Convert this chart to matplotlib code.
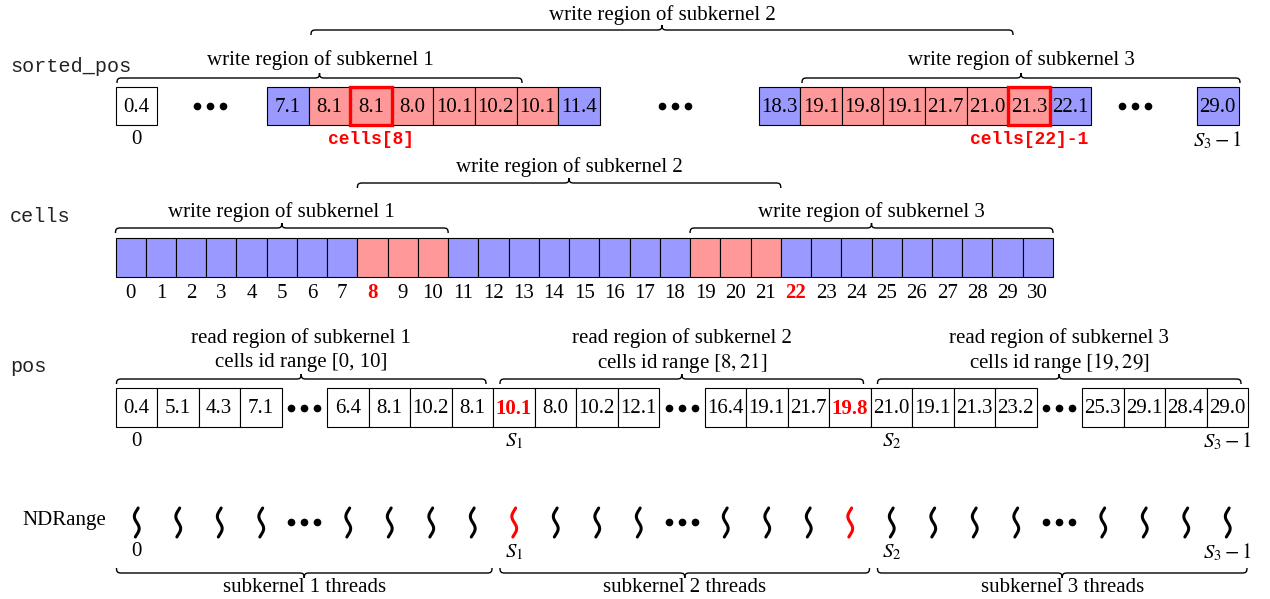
import numpy as np
import matplotlib
matplotlib.use('Agg')
import matplotlib.pyplot as plt
from matplotlib.path import Path
from matplotlib.patches import PathPatch, Rectangle

plt.rcParams['font.family'] = 'Liberation Serif'
plt.rcParams['mathtext.fontset'] = 'stix'

# data
sorted_first = ['0.4']
sorted_mid1 = ['7.1', '8.1', '8.1', '8.0', '10.1', '10.2', '10.1', '11.4']
sorted_mid1_written = [0, 1, 1, 1, 1, 1, 1, 0]
sorted_mid2 = ['18.3', '19.1', '19.8', '19.1', '21.7', '21.0', '21.3', '22.1']
sorted_mid2_written = [0, 1, 1, 1, 1, 1, 1, 0]
sorted_last = ['29.0']
highlight_mid1 = 2   # cells[8]
highlight_mid2 = 6   # cells[22]-1

n_cells = 31
written_cells = [8, 9, 10, 19, 20, 21]
red_cells = [8, 22]

pos_groups = [
    ['0.4', '5.1', '4.3', '7.1'],
    ['6.4', '8.1', '10.2', '8.1', '10.1', '8.0', '10.2', '12.1'],
    ['16.4', '19.1', '21.7', '19.8', '21.0', '19.1', '21.3', '23.2'],
    ['25.3', '29.1', '28.4', '29.0'],
]
pos_red = [(1, 4), (2, 3)]
red_threads = [(1, 4), (2, 3)]

read_titles = ['read region of subkernel 1', 'read region of subkernel 2', 'read region of subkernel 3']
read_ranges = ['cells id range [0, 10]', r'cells id range $[8, 21]$', r'cells id range $[19, 29]$']
thread_titles = ['subkernel 1 threads', 'subkernel 2 threads', 'subkernel 3 threads']

BLUE = '#9999ff'
PINK = '#ff9999'
RED = '#ff0000'
MONO = 'Liberation Mono'
FS = 15

fig = plt.figure(figsize=(12.7, 5.99), dpi=100)
ax = fig.add_axes([0, 0, 1, 1])
ax.set_xlim(0, 1270)
ax.set_ylim(599, 0)
ax.axis('off')


def box(x, y, w, h, label=None, fc='white', color='black', weight='normal'):
    ax.add_patch(Rectangle((x, y), w, h, fc=fc, ec='black', lw=0.8))
    if label is not None:
        ax.text(x + w / 2, y + h / 2 + 1, label, ha='center', va='center',
                fontsize=FS, color=color, fontweight=weight)


def brace(x1, x2, y, up=True, h=5):
    s = 1 if up else -1
    xm = (x1 + x2) / 2
    verts = [(x1, y + s * h),
             (x1, y + s * h * 0.2), (x1 + h * 0.2, y), (x1 + h, y),
             (xm - h, y),
             (xm - h * 0.2, y), (xm, y - s * h * 0.2), (xm, y - s * h),
             (xm, y - s * h * 0.2), (xm + h * 0.2, y), (xm + h, y),
             (x2 - h, y),
             (x2 - h * 0.2, y), (x2, y + s * h * 0.2), (x2, y + s * h)]
    codes = [Path.MOVETO] + [Path.CURVE4] * 3 + [Path.LINETO] + [Path.CURVE4] * 6 + \
            [Path.LINETO] + [Path.CURVE4] * 3
    ax.add_patch(PathPatch(Path(verts, codes), fc='none', ec='black', lw=1.0))


def dots(xc, y):
    ax.plot([xc - 13, xc, xc + 13], [y, y, y], 'o', color='black', ms=4.5)


# row labels
ax.text(10, 66, 'sorted_pos', family=MONO, fontsize=14.5, va='center', color='#222222')
ax.text(10, 217, 'cells', family=MONO, fontsize=14.5, va='center', color='#222222')
ax.text(10, 367, 'pos', family=MONO, fontsize=14.5, va='center', color='#222222')
ax.text(22, 521, 'NDRange', fontsize=FS, va='center')

# ---- sorted_pos row
bw, y1, bh = 41.6, 87, 38
box(115.5, y1, bw, bh, sorted_first[0])
ax.text(115.5 + bw / 2, 140, '0', ha='center', va='center', fontsize=FS)
dots(210, y1 + bh / 2)
for x0, vals, wr, hi, lab in [(267, sorted_mid1, sorted_mid1_written, highlight_mid1, 'cells[8]'),
                              (758.6, sorted_mid2, sorted_mid2_written, highlight_mid2, 'cells[22]-1')]:
    for i, (v, w) in enumerate(zip(vals, wr)):
        box(x0 + i * bw, y1, bw, bh, v, fc=PINK if w else BLUE)
    ax.add_patch(Rectangle((x0 + hi * bw, y1), bw, bh, fc='none', ec=RED, lw=2.4, zorder=5))
    ax.text(x0 + (hi + 0.5) * bw, 140, lab, ha='center', va='center', family=MONO,
            fontweight='bold', color=RED, fontsize=13)
dots(675, y1 + bh / 2)
dots(1135, y1 + bh / 2)
box(1197, y1, bw, bh, sorted_last[0], fc=BLUE)
ax.text(1197 + bw / 2, 140, r'$S_3-1$', ha='center', va='center', fontsize=FS)

brace(117, 522, 78)
ax.text(320, 60, 'write region of subkernel 1', ha='center', va='center', fontsize=FS)
brace(311, 1013, 30)
ax.text(662, 15, 'write region of subkernel 2', ha='center', va='center', fontsize=FS)
brace(802, 1240, 78)
ax.text(1021, 60, 'write region of subkernel 3', ha='center', va='center', fontsize=FS)

# ---- cells row
cx0, cw, y2, ch = 115.5, 30.24, 238, 39
for i in range(n_cells):
    ax.add_patch(Rectangle((cx0 + i * cw, y2), cw, ch,
                           fc=PINK if i in written_cells else BLUE, ec='black', lw=0.8))
    red = i in red_cells
    ax.text(cx0 + (i + 0.5) * cw, 293, str(i), ha='center', va='center', fontsize=FS,
            color=RED if red else 'black', fontweight='bold' if red else 'normal')

brace(cx0, cx0 + 11 * cw, 228)
ax.text(cx0 + 5.5 * cw, 212, 'write region of subkernel 1', ha='center', va='center', fontsize=FS)
brace(cx0 + 8 * cw, cx0 + 22 * cw, 183)
ax.text(cx0 + 15 * cw, 167, 'write region of subkernel 2', ha='center', va='center', fontsize=FS)
brace(cx0 + 19 * cw, cx0 + 31 * cw, 228)
ax.text(cx0 + 25 * cw, 212, 'write region of subkernel 3', ha='center', va='center', fontsize=FS)

# ---- pos row
pw, gap, y3, ph = 41.5, 45.5, 388, 39
starts = []
x = 115.5
for g in pos_groups:
    starts.append(x)
    x += len(g) * pw + gap
centers = []
for gi, (x0, g) in enumerate(zip(starts, pos_groups)):
    cs = []
    for i, v in enumerate(g):
        red = (gi, i) in pos_red
        box(x0 + i * pw, y3, pw, ph, v, color=RED if red else 'black',
            weight='bold' if red else 'normal')
        cs.append(x0 + (i + 0.5) * pw)
    centers.append(cs)
    if gi < len(pos_groups) - 1:
        dots(x0 + len(g) * pw + gap / 2, y3 + ph / 2)

# subkernel boundaries inside the pos array
sk_edges = [starts[0], starts[1] + 4 * pw, starts[2] + 4 * pw, starts[3] + 4 * pw]
idx_labels = [(centers[0][0], '0'), (centers[1][4], r'$S_1$'),
              (centers[2][4], r'$S_2$'), (centers[3][3], r'$S_3-1$')]
for xc, t in idx_labels:
    ax.text(xc, 441, t, ha='center', va='center', fontsize=FS)
for k in range(3):
    a = sk_edges[k] + (1 if k == 0 else 7)
    b = sk_edges[k + 1] - 7
    brace(a, b, 379)
    ax.text((a + b) / 2, 338, read_titles[k], ha='center', va='center', fontsize=FS)
    ax.text((a + b) / 2, 363, read_ranges[k], ha='center', va='center', fontsize=FS)

# ---- NDRange row
t = np.linspace(-0.1, 1.1, 60)
for gi, cs in enumerate(centers):
    for i, xc in enumerate(cs):
        col = RED if (gi, i) in red_threads else 'black'
        ax.plot(xc + 0.5 - 2.4 * np.sin(2 * np.pi * t), 508 + 29 * (t + 0.1) / 1.2,
                color=col, lw=2.2, solid_capstyle='round')
    if gi < len(pos_groups) - 1:
        dots(starts[gi] + len(pos_groups[gi]) * pw + gap / 2, 522)
for xc, t_ in idx_labels:
    ax.text(xc, 552, t_, ha='center', va='center', fontsize=FS)
for k in range(3):
    a = sk_edges[k] + (1 if k == 0 else 7)
    b = sk_edges[k + 1] - 1
    brace(a, b, 573, up=False)
    ax.text((a + b) / 2, 588, thread_titles[k], ha='center', va='center', fontsize=FS)

fig.savefig('out.png', dpi=100)
